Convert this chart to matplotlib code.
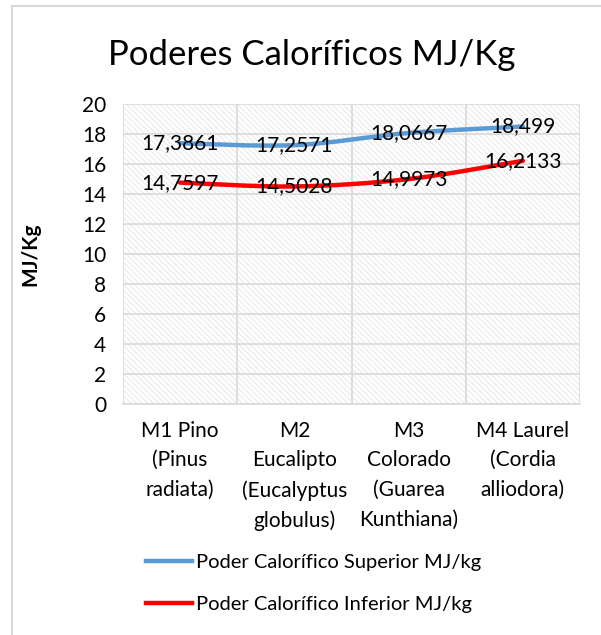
import matplotlib.pyplot as plt
from matplotlib.path import Path
import matplotlib.patches as patches
from matplotlib.lines import Line2D
import numpy as np

plt.rcParams['font.family'] = ['Lato', 'DejaVu Sans']
plt.rcParams['hatch.linewidth'] = 0.6

categories = ["M1 Pino\n(Pinus\nradiata)",
              "M2\nEucalipto\n(Eucalyptus\nglobulus)",
              "M3\nColorado\n(Guarea\nKunthiana)",
              "M4 Laurel\n(Cordia\nalliodora)"]
superior = [17.3861, 17.2571, 18.0667, 18.499]
inferior = [14.7597, 14.5028, 14.9973, 16.2133]
sup_labels = ["17,3861", "17,2571", "18,0667", "18,499"]
inf_labels = ["14,7597", "14,5028", "14,9973", "16,2133"]
series_names = ["Poder Calorífico Superior MJ/kg", "Poder Calorífico Inferior MJ/kg"]
colors = ["#5B9BD5", "#FF0000"]


# courbe lissée façon Excel (Catmull-Rom -> Bezier)
def smooth_path(xs, ys, t=1/6):
    pts = np.column_stack([xs, ys]).astype(float)
    verts = [pts[0]]
    codes = [Path.MOVETO]
    n = len(pts)
    for i in range(n - 1):
        p0 = pts[i - 1] if i > 0 else pts[i]
        p1 = pts[i]
        p2 = pts[i + 1]
        p3 = pts[i + 2] if i + 2 < n else pts[i + 1]
        c1 = p1 + (p2 - p0) * t
        c2 = p2 - (p3 - p1) * t
        verts += [c1, c2, p2]
        codes += [Path.CURVE4] * 3
    return Path(verts, codes)


fig = plt.figure(figsize=(6.01, 6.35), dpi=100)
ax = fig.add_axes([123 / 601, 1 - 404 / 635, 457 / 601, 300 / 635])

x = np.arange(len(categories))
ax.set_xlim(-0.5, len(categories) - 0.5)
ax.set_ylim(0, 20)

ax.patch.set_facecolor("white")
ax.patch.set_hatch("\\\\\\\\\\\\")
ax.patch.set_edgecolor("#e4e4e4")

ax.set_yticks(np.arange(0, 21, 2))
ax.set_xticks(x)
ax.set_xticks(np.arange(-0.5, len(categories), 0.5), minor=True)
ax.grid(True, which="major", axis="y", color="#d9d9d9", linewidth=1.2)
ax.grid(True, which="minor", axis="x", color="#d9d9d9", linewidth=1.2)
ax.set_axisbelow(True)
for s in ax.spines.values():
    s.set_visible(False)
ax.spines["bottom"].set_visible(True)
ax.spines["bottom"].set_color("#d9d9d9")
ax.spines["bottom"].set_linewidth(1.2)
ax.tick_params(axis="both", which="both", length=0, labelsize=15)
ax.tick_params(axis="y", pad=12)
ax.tick_params(axis="x", pad=12)
ax.set_xticklabels(categories, linespacing=1.6, va="top")

for vals, labs, c in zip([superior, inferior], [sup_labels, inf_labels], colors):
    patch = patches.PathPatch(smooth_path(x, vals), facecolor="none", edgecolor=c,
                              linewidth=3.2, capstyle="round", zorder=3)
    ax.add_patch(patch)
    for xi, v, lab in zip(x, vals, labs):
        ax.text(xi, v, lab, ha="center", va="center", fontsize=15, zorder=4)

ax.set_ylabel("MJ/Kg", fontsize=15, fontweight="bold")
ax.yaxis.set_label_coords(-83 / 457, 0.5)

fig.text(312 / 601, 1 - 55 / 635, "Poderes Caloríficos MJ/Kg", fontsize=25, ha="center", va="center")

handles = [Line2D([], [], color=c, linewidth=3.2) for c in colors]
fig.legend(handles, series_names, loc="upper left", bbox_to_anchor=(128 / 601, 1 - 536 / 635),
           frameon=False, fontsize=14.5, handlelength=2.3, handletextpad=0.2, labelspacing=1.25)

# cadre gris du graphique
fig.add_artist(Line2D([12 / 601, 12 / 601], [0, 1 - 6 / 635], color="#d9d9d9", linewidth=1.5))
fig.add_artist(Line2D([12 / 601, 1], [1 - 6 / 635, 1 - 6 / 635], color="#d9d9d9", linewidth=1.5))

fig.savefig("out.png", dpi=100)
